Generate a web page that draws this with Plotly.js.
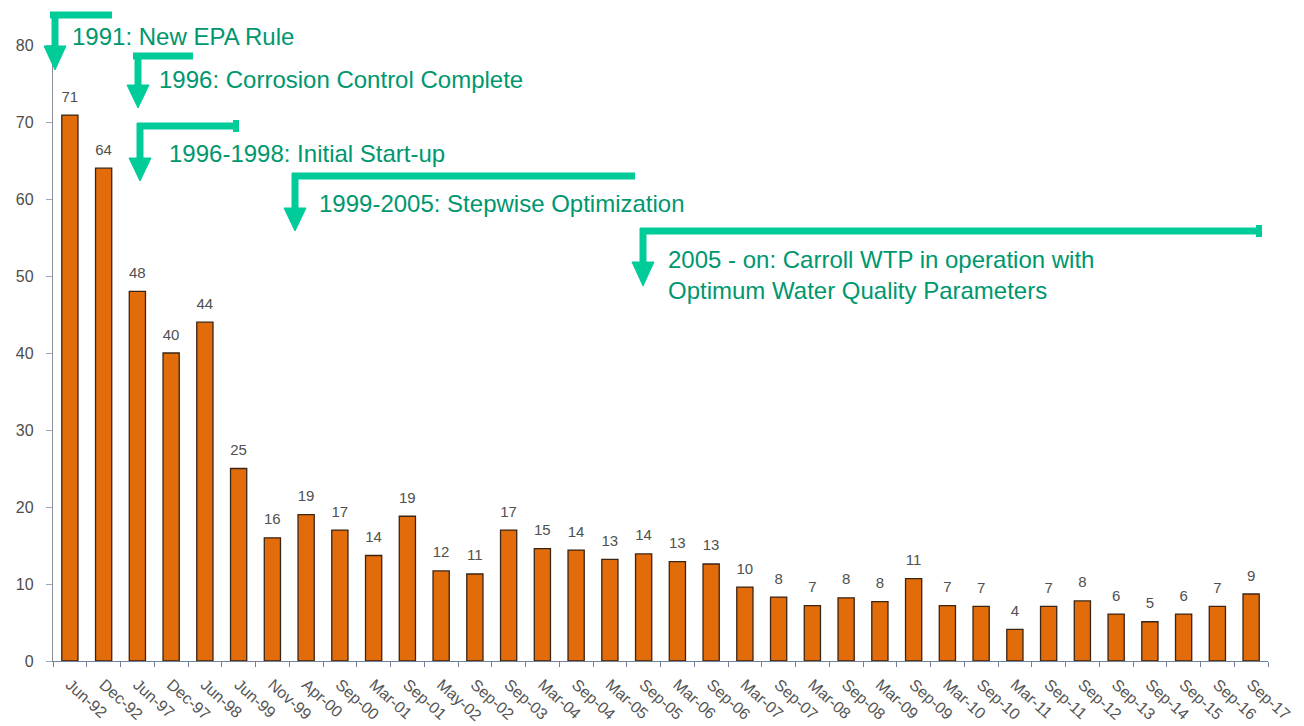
<!DOCTYPE html>
<html>
<head>
<meta charset="utf-8">
<script src="https://cdn.plot.ly/plotly-3.0.1.min.js"></script>
<style>html,body{margin:0;padding:0;background:#fff;}#chart{width:1304px;height:726px;}</style>
</head>
<body>
<div id="chart"></div>
<script>
const categories = ["Jun-92","Dec-92","Jun-97","Dec-97","Jun-98","Jun-99","Nov-99","Apr-00","Sep-00","Mar-01","Sep-01","May-02","Sep-02","Sep-03","Mar-04","Sep-04","Mar-05","Sep-05","Mar-06","Sep-06","Mar-07","Sep-07","Mar-08","Sep-08","Mar-09","Sep-09","Mar-10","Sep-10","Mar-11","Sep-11","Sep-12","Sep-13","Sep-14","Sep-15","Sep-16","Sep-17"];
const values = [70.9,64.0,48.0,40.0,44.0,25.0,16.0,19.0,17.0,13.7,18.8,11.7,11.3,17.0,14.6,14.4,13.2,13.9,12.9,12.6,9.6,8.3,7.2,8.2,7.7,10.7,7.2,7.1,4.1,7.1,7.8,6.1,5.1,6.1,7.1,8.7];
const labels = ["71","64","48","40","44","25","16","19","17","14","19","12","11","17","15","14","13","14","13","13","10","8","7","8","8","11","7","7","4","7","8","6","5","6","7","9"];
const yTicks = [0,10,20,30,40,50,60,70,80];

const W = 1304, H = 726;
const M = {l:53, r:36, t:45, b:65};
const PW = W - M.l - M.r, PH = H - M.t - M.b;
const px = x => (x - M.l) / PW;
const py = y => (H - M.b - y) / PH;

const ARROW = "#00cc99";
const TEXT = "#00976f";

// milestone arrows: [hStartX, hEndX, hY, vX, headTopY, tipY, cap]
const arrows = [
  [50, 112, 15, 55, 46, 70, false],
  [133, 193, 56, 138, 85, 108, false],
  [137, 238, 126, 140, 158, 181, true],
  [292, 635, 176, 295, 208, 231, false],
  [640, 1261, 231, 643, 262, 286, true]
];
const notes = [
  {x:70, y:36, t:"1991: New EPA Rule"},
  {x:157, y:80, t:"1996: Corrosion Control Complete"},
  {x:167, y:153, t:"1996-1998: Initial Start-up"},
  {x:317, y:204, t:"1999-2005: Stepwise Optimization"},
  {x:666, y:275, t:"2005 - on: Carroll WTP in operation with<br>Optimum Water Quality Parameters"}
];

const shapes = [];
arrows.forEach(a => {
  const [x0,x1,hy,vx,ht,tip,cap] = a;
  shapes.push({type:'line', xref:'paper', yref:'paper', x0:px(x0), x1:px(x1), y0:py(hy), y1:py(hy), line:{color:ARROW, width:7}});
  shapes.push({type:'line', xref:'paper', yref:'paper', x0:px(vx), x1:px(vx), y0:py(hy-3), y1:py(ht+1), line:{color:ARROW, width:7}});
  const hw = 11;
  shapes.push({type:'path', xref:'paper', yref:'paper',
    path:`M ${px(vx-hw)},${py(ht)} L ${px(vx+hw)},${py(ht)} L ${px(vx)},${py(tip)} Z`,
    fillcolor:ARROW, line:{color:ARROW, width:1}});
  if (cap) {
    shapes.push({type:'rect', xref:'paper', yref:'paper', x0:px(x1-5), x1:px(x1+1), y0:py(hy+6), y1:py(hy-6), fillcolor:ARROW, line:{width:0}});
  }
});

const annotations = notes.map(n => ({
  xref:'paper', yref:'paper', x:px(n.x), y:py(n.y), xanchor:'left', yanchor:'middle', align:'left',
  showarrow:false, text:n.t, font:{family:'Liberation Sans, Arial, sans-serif', size:24, color:TEXT}
}));

const bars = {
  type:'bar', x:categories, y:values,
  marker:{color:'#e36c0a', line:{color:'#3a2414', width:1.3}},
  width:0.48, hoverinfo:'x+y'
};
const barLabels = {
  type:'scatter', mode:'markers+text', x:categories, y:values, text:labels, textposition:'top center',
  textfont:{family:'Liberation Sans, Arial, sans-serif', size:15, color:'#505050'},
  marker:{size:14, color:'rgba(0,0,0,0)'}, cliponaxis:false, hoverinfo:'skip'
};

const layout = {
  width:W, height:H, margin:M, paper_bgcolor:'#fff', plot_bgcolor:'#fff', showlegend:false,
  font:{family:'Liberation Sans, Arial, sans-serif', color:'#555'},
  xaxis:{type:'category', range:[-0.5, categories.length-0.5], tickson:'boundaries', ticks:'outside', ticklen:5,
    tickcolor:'#6f8199', showline:true, linecolor:'#6f8199', linewidth:1, tickangle:42,
    ticklabelstandoff:7,
    tickfont:{size:16, color:'#555'}, showgrid:false, zeroline:false},
  yaxis:{range:[0,80], tickvals:yTicks, ticks:'outside', ticklen:6, tickcolor:'#9aa9c0',
    ticklabelstandoff:9,
    showline:true, linecolor:'#8a8f99', linewidth:1.2, showgrid:false, zeroline:false,
    tickfont:{size:16, color:'#4d4d4d'}},
  shapes:shapes, annotations:annotations, bargap:0.5
};

Plotly.newPlot('chart', [bars, barLabels], layout, {displayModeBar:false, staticPlot:true});
</script>
</body>
</html>
